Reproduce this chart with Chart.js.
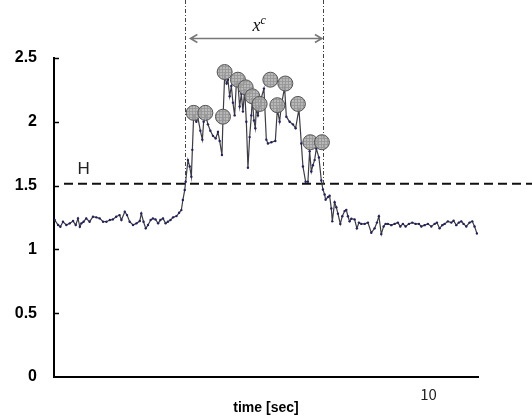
<!DOCTYPE html>
<html>
<head>
<meta charset="utf-8">
<script src="https://cdn.jsdelivr.net/npm/chart.js@4"></script>
<style>
  html, body { margin: 0; padding: 0; background: #fff; }
  #wrap { width: 532px; height: 417px; }
</style>
</head>
<body>
<div id="wrap"><canvas id="chart" width="532" height="417"></canvas></div>
<script>
// signal trace (time in sec)
const times = [
  0.02, 0.11, 0.17, 0.24, 0.33, 0.42, 0.51, 0.58, 0.64, 0.69, 0.73, 0.79, 0.86, 0.95, 1.04, 1.13,
  1.22, 1.31, 1.40, 1.49, 1.57, 1.66, 1.75, 1.80, 1.89, 1.95, 2.02, 2.11, 2.20, 2.29, 2.33, 2.39,
  2.45, 2.51, 2.58, 2.64, 2.71, 2.78, 2.84, 2.91, 2.98, 3.04, 3.11, 3.18, 3.27, 3.34, 3.40, 3.44,
  3.49, 3.515, 3.576, 3.622, 3.667, 3.694, 3.729, 3.800, 3.843, 3.907, 3.961, 3.995, 4.049, 4.110,
  4.174, 4.244, 4.316, 4.377, 4.423, 4.484, 4.511, 4.556, 4.609, 4.644, 4.690, 4.735, 4.777, 4.823,
  4.868, 4.911, 4.956, 5.002, 5.044, 5.090, 5.135, 5.178, 5.223, 5.269, 5.295, 5.338, 5.375, 5.402,
  5.445, 5.490, 5.536, 5.605, 5.669, 5.712, 5.802, 5.909, 5.963, 6.024, 6.069, 6.157, 6.203, 6.291,
  6.379, 6.451, 6.539, 6.603, 6.646, 6.718, 6.779, 6.825, 6.870, 6.913, 6.958, 7.003, 7.073, 7.137,
  7.180, 7.225, 7.252, 7.313, 7.358, 7.404, 7.430, 7.492, 7.537, 7.580, 7.644, 7.697, 7.759, 7.804,
  7.847, 7.892, 7.938, 8.026, 8.087, 8.141, 8.205, 8.293, 8.381, 8.471, 8.559, 8.621, 8.674, 8.738,
  8.800, 8.853, 8.914, 9.005, 9.093, 9.181, 9.245, 9.315, 9.387, 9.475, 9.566, 9.654, 9.742, 9.806,
  9.894, 9.982, 10.073, 10.161, 10.223, 10.294, 10.366, 10.428, 10.516, 10.607, 10.668, 10.740,
  10.809, 10.873, 10.935, 11.007, 11.095, 11.167, 11.228, 11.291
];
const values = [
  1.230, 1.191, 1.177, 1.217, 1.191, 1.204, 1.222, 1.191, 1.243, 1.177, 1.204, 1.217, 1.243, 1.217, 1.256, 1.251,
  1.243, 1.217, 1.217, 1.230, 1.235, 1.256, 1.269, 1.230, 1.295, 1.269, 1.217, 1.191, 1.204, 1.222, 1.282, 1.217,
  1.165, 1.191, 1.230, 1.243, 1.235, 1.204, 1.230, 1.243, 1.204, 1.217, 1.230, 1.251, 1.261, 1.287, 1.308, 1.387,
  1.465, 1.53, 1.70, 1.65, 1.57, 1.78, 2.05, 2.00, 2.03, 1.93, 1.86, 2.00, 2.05, 1.98,
  1.93, 1.89, 1.87, 1.92, 1.85, 1.74, 2.02, 2.36, 2.30, 2.33, 2.20, 2.28, 2.15, 2.05,
  2.30, 2.30, 2.12, 2.22, 2.08, 2.25, 2.00, 1.64, 1.88, 2.05, 2.18, 2.01, 1.95, 2.11,
  2.05, 2.12, 2.19, 2.26, 1.86, 1.83, 1.84, 1.85, 2.10, 2.00, 2.13, 2.27, 2.04, 2.00,
  1.98, 1.95, 2.10, 1.83, 1.65, 1.53, 1.53, 1.77, 1.61, 1.66, 1.70, 1.79, 1.72, 1.54,
  1.47, 1.43, 1.39, 1.41, 1.42, 1.32, 1.22, 1.37, 1.33, 1.28, 1.20, 1.26, 1.30, 1.31,
  1.26, 1.22, 1.24, 1.235, 1.165, 1.21, 1.20, 1.20, 1.21, 1.13, 1.165, 1.21, 1.26, 1.12,
  1.18, 1.20, 1.20, 1.19, 1.20, 1.21, 1.18, 1.20, 1.18, 1.20, 1.21, 1.20, 1.20, 1.18,
  1.19, 1.20, 1.18, 1.20, 1.21, 1.165, 1.19, 1.20, 1.22, 1.21, 1.225, 1.19,
  1.21, 1.22, 1.20, 1.18, 1.21, 1.22, 1.18, 1.125
];

// circled peaks
const peakTimes = [3.729, 4.041, 4.511, 4.556, 4.911, 5.117, 5.295, 5.490, 5.776, 5.963, 6.176, 6.512, 6.843, 7.153];
const peakValues = [2.07, 2.07, 2.04, 2.39, 2.33, 2.27, 2.20, 2.14, 2.33, 2.13, 2.30, 2.14, 1.84, 1.84];

const yTicks = [0, 0.5, 1, 1.5, 2, 2.5];
const xTicks = [10];

const thresholdH = 1.515;   // dashed line "H"
const spanStart = 3.507;    // x^c start
const spanEnd = 7.18;       // x^c end

// light grey fill with a faint grid for the circles
function gridPattern() {
    const c = document.createElement('canvas');
    c.width = 3; c.height = 3;
    const g = c.getContext('2d');
    g.fillStyle = 'rgba(172,172,172,0.85)';
    g.fillRect(0, 0, 3, 3);
    g.fillStyle = 'rgba(150,150,150,0.85)';
    g.fillRect(0, 0, 3, 1);
    g.fillRect(0, 0, 1, 3);
    return g.createPattern(c, 'repeat');
}

const overlay = {
    id: 'overlay',
    beforeDatasetsDraw(chart) {
        const { ctx, chartArea, scales: { x, y } } = chart;
        ctx.save();

        // H threshold
        const hy = y.getPixelForValue(thresholdH);
        ctx.strokeStyle = '#111';
        ctx.lineWidth = 2;
        ctx.setLineDash([9, 5]);
        ctx.beginPath();
        ctx.moveTo(chartArea.left + 10, hy);
        ctx.lineTo(chart.width, hy);
        ctx.stroke();

        // dash-dot verticals
        ctx.strokeStyle = '#444';
        ctx.lineWidth = 1;
        ctx.setLineDash([4, 2, 1, 2]);
        [spanStart, spanEnd].forEach(t => {
            const px = Math.round(x.getPixelForValue(t)) + 0.5;
            ctx.beginPath();
            ctx.moveTo(px, 0);
            ctx.lineTo(px, hy);
            ctx.stroke();
        });
        ctx.setLineDash([]);

        // double arrow
        const x1 = x.getPixelForValue(spanStart) + 5;
        const x2 = x.getPixelForValue(spanEnd) - 1;
        const ay = Math.round(y.getPixelForValue(2.66)) + 0.5;
        ctx.strokeStyle = '#777';
        ctx.lineWidth = 1.5;
        ctx.beginPath();
        ctx.moveTo(x1, ay); ctx.lineTo(x2, ay);
        ctx.moveTo(x1 + 7, ay - 4); ctx.lineTo(x1, ay); ctx.lineTo(x1 + 7, ay + 4);
        ctx.moveTo(x2 - 7, ay - 4); ctx.lineTo(x2, ay); ctx.lineTo(x2 - 7, ay + 4);
        ctx.stroke();

        // labels
        ctx.fillStyle = '#111';
        ctx.textBaseline = 'alphabetic';
        ctx.textAlign = 'left';
        const lx = x.getPixelForValue(5.3);
        const ly = y.getPixelForValue(2.71);
        ctx.font = 'italic 18px "Liberation Serif"';
        ctx.fillText('x', lx, ly);
        const w = ctx.measureText('x').width;
        ctx.font = 'italic 12px "Liberation Serif"';
        ctx.fillText('c', lx + w, ly - 7);

        ctx.font = '17px "Liberation Sans"';
        ctx.fillStyle = '#222';
        ctx.fillText('H', x.getPixelForValue(0.63), y.getPixelForValue(1.59));

        // inner y ticks
        ctx.strokeStyle = '#000';
        ctx.lineWidth = 1.5;
        yTicks.forEach(v => {
            if (v === 0) return;
            const py = Math.round(y.getPixelForValue(v)) + 0.5;
            ctx.beginPath();
            ctx.moveTo(chartArea.left, py);
            ctx.lineTo(chartArea.left + 5, py);
            ctx.stroke();
        });
        ctx.restore();
    }
};

const ctx = document.getElementById('chart').getContext('2d');
new Chart(ctx, {
    type: 'line',
    data: {
        datasets: [
            {
                label: 'peaks',
                data: peakTimes.map((t, i) => ({ x: t, y: peakValues[i] })),
                showLine: false,
                pointRadius: 7.5,
                pointBackgroundColor: gridPattern(),
                pointBorderColor: '#555',
                pointBorderWidth: 1,
                order: 0
            },
            {
                label: 'signal',
                data: times.map((t, i) => ({ x: t, y: values[i] })),
                borderColor: '#3c3c44',
                borderWidth: 1.2,
                pointRadius: 1.2,
                pointBackgroundColor: '#23235a',
                pointBorderWidth: 0,
                tension: 0,
                order: 1
            }
        ]
    },
    options: {
        responsive: false,
        animation: false,
        events: [],
        layout: { padding: { top: 58, right: 54, left: 0, bottom: 0 } },
        plugins: { legend: { display: false }, tooltip: { enabled: false } },
        scales: {
            x: {
                type: 'linear',
                min: 0,
                max: 11.32,
                afterBuildTicks: axis => { axis.ticks = xTicks.map(v => ({ value: v })); },
                afterFit: s => { s.height = 40; },
                grid: { display: false, drawTicks: false },
                border: { display: true, color: '#000', width: 2 },
                ticks: {
                    padding: 8,
                    color: '#222',
                    font: { family: '"Noto Sans CJK JP"', size: 15 },
                    maxRotation: 0,
                    callback: v => String(v)
                },
                title: {
                    display: true,
                    text: 'time [sec]',
                    color: '#000',
                    font: { family: '"Liberation Sans"', size: 14, weight: 'bold' },
                    padding: { top: -4, bottom: 0 }
                }
            },
            y: {
                min: 0,
                max: 2.5,
                afterBuildTicks: axis => { axis.ticks = yTicks.map(v => ({ value: v })); },
                afterFit: s => { s.width = 54; },
                grid: { display: false, drawTicks: false },
                border: { display: true, color: '#000', width: 2 },
                ticks: {
                    padding: 17,
                    color: '#000',
                    font: { family: '"Liberation Sans"', size: 16, weight: 'bold' },
                    callback: v => String(v)
                }
            }
        }
    },
    plugins: [overlay]
});
</script>
</body>
</html>
